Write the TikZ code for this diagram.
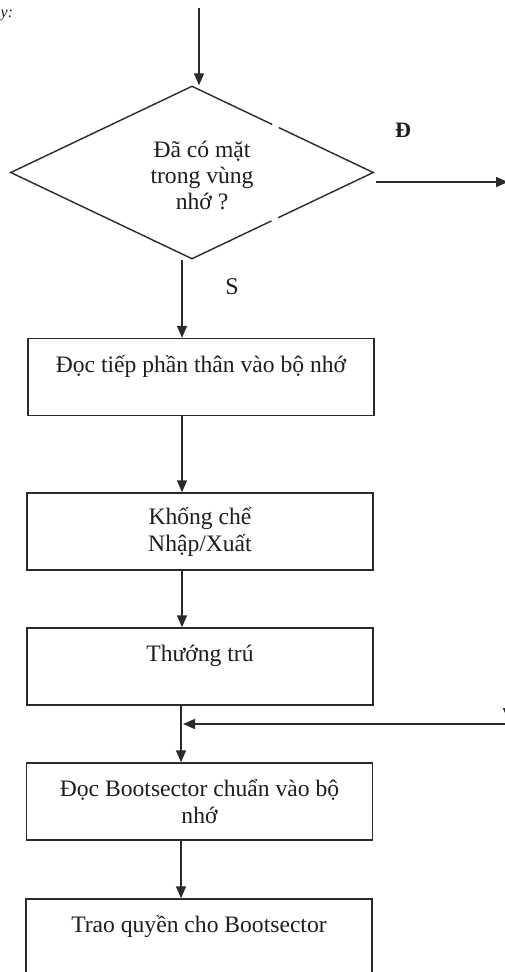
\documentclass[tikz,border=0pt]{standalone}
\usepackage{fontspec}
\setmainfont{Liberation Serif}
\usetikzlibrary{shapes.geometric,arrows.meta}
\definecolor{ink}{HTML}{2A2A2A}
\definecolor{txt}{HTML}{1E1E1E}
\tikzset{
  flowline/.style={draw=ink,line width=1.4pt},
  arr/.style={flowline,-{Triangle[length=12pt,width=10pt]}},
  stepbox/.style={draw=ink,line width=1.4pt,minimum width=346pt,minimum height=77pt,
    inner sep=0pt,align=center,text=txt,font=\fontsize{23.6}{27}\selectfont},
  decision/.style={diamond,draw=ink,line width=1.4pt,minimum width=363pt,minimum height=173pt,
    inner sep=0pt},
  bodytext/.style={align=center,text=txt,font=\fontsize{23.6}{26}\selectfont,inner sep=0pt},
  gap/.style={fill=white,draw=none,minimum width=7pt,minimum height=12pt,inner sep=0pt}
}
\begin{document}
\begin{tikzpicture}[x=1pt,y=-1pt]
  \useasboundingbox[fill=white] (0,0) rectangle (505,972);
  \clip (0,0) rectangle (505,972);

  % fragment of the running text above the chart
  \node[text=txt,anchor=west,font=\itshape\fontsize{16}{18}\selectfont,inner sep=0pt] (frag) at (0.5,15) {y:};

  % decision
  \node[decision] (d) at (192,172.5) {};
  \node[gap,rotate=-25] (g1) at (276,125) {};
  \node[gap,rotate=25] (g2) at (275,220) {};
  \node[bodytext] (dtext) at (202,175) {Đã có mặt\\trong vùng\\nhớ ?};

  % process steps
  \node[stepbox] (b1) at (201,377) {Đọc tiếp phần thân vào bộ nhớ\\~};
  \node[stepbox] (b2) at (200,531.5) {Khống chế\\Nhập/Xuất};
  \node[stepbox] (b3) at (200,666.5) {Thướng trú\\~};
  \node[stepbox] (b4) at (199.5,801.5) {Đọc Bootsector chuẩn vào bộ\\nhớ};
  \node[stepbox] (b5) at (199,937.5) {Trao quyền cho Bootsector\\~};

  % branch labels
  \node[text=txt,font=\bfseries\fontsize{22}{24}\selectfont,inner sep=0pt] (lblD) at (403,130) {Đ};
  \node[text=txt,font=\fontsize{24}{28}\selectfont,inner sep=0pt] (lblS) at (232,287) {S};

  % routing points
  \coordinate (in) at (199,8);
  \coordinate (colA) at (182,0);
  \coordinate (colB) at (181,0);
  \coordinate (rt) at (508,182);
  \coordinate (rb) at (508,720);
  \coordinate (rc) at (508,724);
  \coordinate (j) at (181,724);
  \coordinate (ds) at (182,260);

  % connectors
  \draw[arr] (in) -- (in |- d.north);
  \draw[arr] (ds) -- (b1.north -| colA);
  \draw[arr] (b1.south -| colA) -- (b2.north -| colA);
  \draw[arr] (b2.south -| colA) -- (b3.north -| colA);
  \draw[flowline] (b3.south -| colB) -- (j);
  \draw[arr] (j) -- (b4.north -| colB);
  \draw[arr] (b4.south -| colB) -- (b5.north -| colB);

  % "yes" branch around the right side
  \draw[arr] ([xshift=2pt]d.east |- rt) -- (rt);
  \draw[arr] (rt) -- (rb);
  \draw[arr] (rc) -- ([xshift=2pt]j);
\end{tikzpicture}
\end{document}
